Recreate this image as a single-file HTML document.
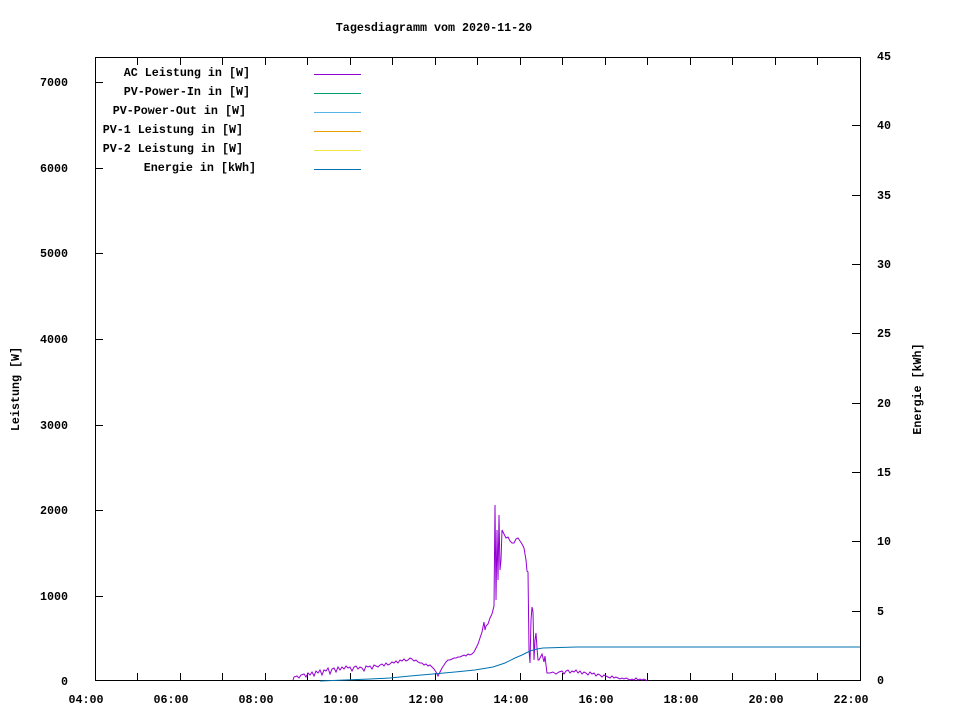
<!DOCTYPE html>
<html><head><meta charset="utf-8"><style>
body{margin:0;background:#fff}
svg{display:block}
text{font-family:"Liberation Mono",monospace;font-size:11.7px;font-weight:bold;fill:#000}
</style></head><body>
<svg width="960" height="720" viewBox="0 0 960 720">
<rect width="960" height="720" fill="#fff"/>
<text x="434" y="31" text-anchor="middle">Tagesdiagramm vom 2020-11-20</text>
<rect x="95.5" y="57.5" width="765" height="623" fill="none" stroke="#000" stroke-width="1"/>
<g stroke="#000" stroke-width="1">
<path d="M95 596.5h8M95 510.5h8M95 425.5h8M95 339.5h8M95 253.5h8M95 168.5h8M95 82.5h8"/>
<path d="M860 611.5h-8M860 541.5h-8M860 472.5h-8M860 403.5h-8M860 333.5h-8M860 264.5h-8M860 195.5h-8M860 125.5h-8"/>
<path d="M137.5 681v-8M180.5 681v-8M222.5 681v-8M265.5 681v-8M307.5 681v-8M350.5 681v-8M392.5 681v-8M435.5 681v-8M477.5 681v-8M520.5 681v-8M562.5 681v-8M605.5 681v-8M647.5 681v-8M690.5 681v-8M732.5 681v-8M775.5 681v-8M817.5 681v-8"/>
<path d="M137.5 57v8M180.5 57v8M222.5 57v8M265.5 57v8M307.5 57v8M350.5 57v8M392.5 57v8M435.5 57v8M477.5 57v8M520.5 57v8M562.5 57v8M605.5 57v8M647.5 57v8M690.5 57v8M732.5 57v8M775.5 57v8M817.5 57v8"/>
</g>
<g text-anchor="end">
<text x="68" y="685">0</text><text x="68" y="600">1000</text><text x="68" y="514">2000</text><text x="68" y="429">3000</text><text x="68" y="343">4000</text><text x="68" y="257">5000</text><text x="68" y="172">6000</text><text x="68" y="86">7000</text>
</g>
<g>
<text x="877" y="684">0</text><text x="877" y="615">5</text><text x="877" y="545">10</text><text x="877" y="476">15</text><text x="877" y="407">20</text><text x="877" y="337">25</text><text x="877" y="268">30</text><text x="877" y="199">35</text><text x="877" y="129">40</text><text x="877" y="60">45</text>
</g>
<g text-anchor="middle">
<text x="86" y="703">04:00</text><text x="171" y="703">06:00</text><text x="256" y="703">08:00</text><text x="341" y="703">10:00</text><text x="426" y="703">12:00</text><text x="511" y="703">14:00</text><text x="596" y="703">16:00</text><text x="681" y="703">18:00</text><text x="766" y="703">20:00</text><text x="851" y="703">22:00</text>
</g>
<text transform="translate(19,389) rotate(-90)" text-anchor="middle">Leistung [W]</text>
<text transform="translate(921,389) rotate(-90)" text-anchor="middle">Energie [kWh]</text>
<g text-anchor="end">
<text x="250" y="76">AC Leistung in [W]</text>
<text x="250" y="95">PV-Power-In in [W]</text>
<text x="246" y="114">PV-Power-Out in [W]</text>
<text x="243" y="133">PV-1 Leistung in [W]</text>
<text x="243" y="152">PV-2 Leistung in [W]</text>
<text x="256" y="171">Energie in [kWh]</text>
</g>
<g stroke-width="1">
<path d="M314 74.5h47" stroke="#9400d3"/>
<path d="M314 93.5h47" stroke="#009e73"/>
<path d="M314 112.5h47" stroke="#56b4e9"/>
<path d="M314 131.5h47" stroke="#e69f00"/>
<path d="M314 150.5h47" stroke="#f0e442"/>
<path d="M314 169.5h47" stroke="#0072b2"/>
</g>
<polyline fill="none" stroke="#9400d3" stroke-width="1" points="293,680 294,677 297,676 299,678 301,675 304,674 306,677 308,673 310,675 312,672 314,676 316,671 318,673 320,670 322,675 324,670 326,671 328,668 330,674 332,669 334,668 336,672 338,667 340,670 342,667 344,669 346,666 348,668 350,667 352,671 354,667 356,666 358,669 360,667 362,668 364,671 366,666 368,667 370,666 372,669 374,665 376,666 378,667 380,665 382,664 384,666 386,663 388,665 390,664 392,662 394,663 396,661 398,663 400,660 402,661 404,659 406,661 408,660 410,658 412,659 414,661 416,660 418,662 420,663 422,663 424,665 426,664 428,666 430,665 432,667 434,669 436,672 438,676 440,672 442,668 444,665 446,662 448,660 450,660 452,659 454,658 456,658 458,657 460,657 462,656 464,655 466,656 468,654 470,655 472,654 474,652 476,648 478,644 480,638 482,632 484,622 485,630 486,626 488,624 490,618 492,614 494,606 495,505 496,600 497,530 498,580 499,515 500,570 501,560 502,530 504,534 506,538 508,537 510,541 512,543 514,543 516,539 518,538 520,541 522,544 524,548 526,560 527,571 528,572 529,650 530,663 531,620 532,607 533,612 534,660 535,640 536,633 537,648 538,660 539,660 540,658 542,654 543,658 544,662 545,656 546,665 547,673 550,673 553,672 556,674 559,672 562,671 564,674 566,671 568,670 570,673 572,671 574,672 576,670 578,673 580,671 582,674 584,672 586,673 588,675 590,672 592,674 594,673 596,676 598,674 600,675 602,677 604,675 606,676 608,677 610,678 612,676 614,678 616,677 618,678 620,679 622,678 624,679 626,678 628,679 630,680 632,679 634,680 636,678 638,680 640,679 642,680 644,679 646,680 647,681"/>
<polyline fill="none" stroke="#0072b2" stroke-width="1" points="320,681 345,680 370,679 390,678 410,676 433,674 455,672 475,670 493,667 505,663 515,658 522,655 530,651 537,649 543,648 577,647 860,647"/>
</svg>
</body></html>
